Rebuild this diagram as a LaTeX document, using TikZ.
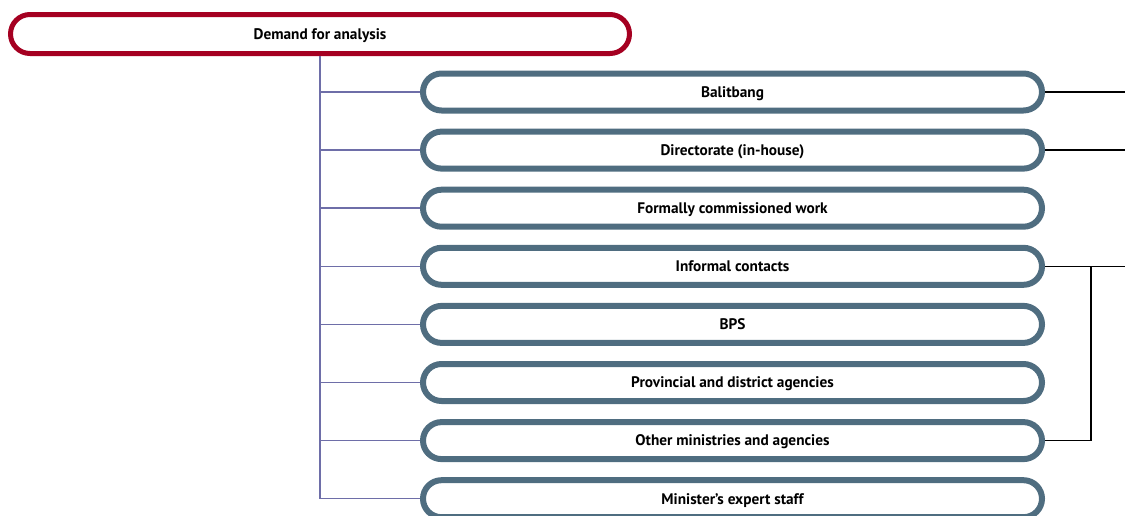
\documentclass[tikz,border=0pt]{standalone}
\usepackage{fontspec}
\setmainfont{PT Sans}
\definecolor{DemandRed}{HTML}{A50021}
\definecolor{SourceBlue}{HTML}{4F6D80}
\definecolor{TrunkPurple}{HTML}{6E6EA8}
\tikzset{
  boxtext/.style={inner sep=0pt,text height=10.6pt,text depth=0pt,font=\bfseries\fontsize{15.3}{17}\selectfont},
  demand/.style={boxtext,draw=DemandRed,line width=5pt,rounded corners=19.5pt,minimum width=619pt,minimum height=39pt},
  source/.style={boxtext,draw=SourceBlue,line width=6pt,rounded corners=18.5pt,minimum width=619pt,minimum height=37pt},
  branch/.style={TrunkPurple,line width=1.5pt},
  link/.style={black,line width=1.5pt}
}
\begin{document}
\begin{tikzpicture}[x=1pt,y=-1pt]
\useasboundingbox (0,0) rectangle (1125,515);
\node[demand] (top) at (320,34) {Demand for analysis};
\coordinate (trunkend) at (320,499);
\coordinate (edge) at (1125,0);
\coordinate (jn) at (1091,0);

\foreach \i/\txt in {1/Balitbang,2/Directorate (in-house),3/Formally commissioned work,4/Informal contacts,5/BPS,6/Provincial and district agencies,7/Other ministries and agencies,8/Minister’s expert staff}
  \node[source] (b\i) at (732.5,{92+58.1*(\i-1)}) {\txt};

\draw[branch] (top.south) -- (trunkend);
\foreach \i in {1,...,8}
  \draw[branch] (top.south |- b\i.west) -- (b\i.west);

\draw[link] (b1.east) -- (b1.east -| edge);
\draw[link] (b2.east) -- (b2.east -| edge);
\draw[link] (b4.east) -- (b4.east -| edge);
\draw[link] (b7.east) -| (jn |- b4.east);
\end{tikzpicture}
\end{document}
